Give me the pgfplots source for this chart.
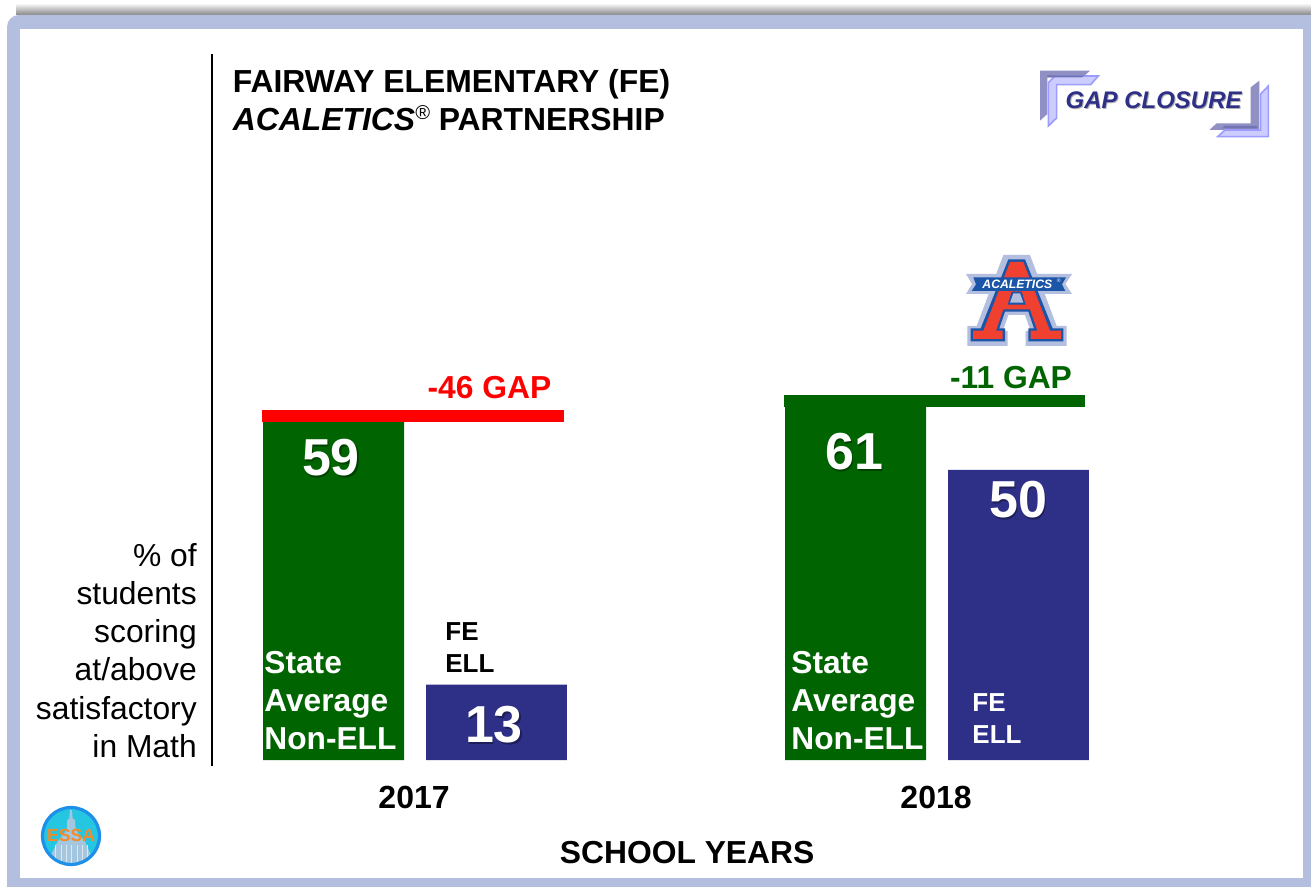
\documentclass[border=0pt]{standalone}
\usepackage{fontspec}
\setmainfont{Liberation Sans}
\usepackage{pgfplots}
\pgfplotsset{compat=1.18}
\definecolor{band}{HTML}{B4BFE0}
\definecolor{dgreen}{HTML}{006400}
\definecolor{navy}{HTML}{2E3087}
\definecolor{brk}{HTML}{9090C4}
\definecolor{brkl}{HTML}{CCCCFF}
\definecolor{brkb}{HTML}{9C9CFF}
\definecolor{lblue}{HTML}{1A55A8}
\definecolor{lred}{HTML}{F04030}
\definecolor{ecyan}{HTML}{25C6E2}
\definecolor{eblue}{HTML}{1E90E8}
\definecolor{edome}{HTML}{A4C6DE}
\definecolor{eor}{HTML}{F28C28}
\newcommand{\fs}[1]{\fontsize{#1}{#1}\selectfont}
\tikzset{px/.style={x=.5pt,y=-.5pt}}
\begin{document}
\begin{tikzpicture}
\path[use as bounding box] (0,0) rectangle (655.5pt,-443.5pt);
% frame
\begin{scope}[px]
\shade[top color=white,bottom color=black!48] (16,3) rectangle (1311,15);
\fill[band,rounded corners=6pt] (7,40) -- (7,15) -- (1330,15) -- (1330,900) -- (7,900) -- cycle;
\fill[band] (7,30) rectangle (1311,887);
\fill[white] (20,29) rectangle (1303,878);
\end{scope}
% chart
\begin{axis}[
  at={(106pt,-383pt)},anchor=south west,
  scale only axis,width=545.5pt,height=356pt,
  xmin=-0.389,xmax=1.701,ymin=-1.03,ymax=121.7,
  axis y line*=left,axis x line*=bottom,
  x axis line style={draw=none},
  y axis line style={line width=1.1pt,-},
  ytick=\empty,xtick={0,1},xticklabels={2017,2018},
  tick style={draw=none},
  x tick label style={font=\fs{16}\bfseries,yshift=-6.5pt,xshift=-0.5pt},
  xlabel={SCHOOL YEARS},
  xlabel style={font=\fs{15.9}\bfseries,at={(axis description cs:0.4355,-0.121)},anchor=center},
  ylabel={\% of\\students\\scoring\\at/above\\satisfactory\\in Math},
  ylabel style={rotate=-90,font=\fontsize{15.9}{19.1}\selectfont,align=right,anchor=south east,at={(axis description cs:-0.0075,0.002)}},
]
\addplot[ybar,bar width=0.27,bar shift=-0.156,fill=dgreen,draw=none] coordinates {(0,59) (1,61)};
\addplot[ybar,bar width=0.27,bar shift=0.156,fill=navy,draw=none] coordinates {(0,13) (1,50)};
\addplot[red,line width=6pt,no markers] coordinates {(-0.293,59.3) (0.285,59.3)};
\addplot[dgreen,line width=6pt,no markers] coordinates {(0.707,61.9) (1.284,61.9)};
\end{axis}
% texts
\begin{scope}[px]
\node[anchor=base west,inner sep=0pt,font=\fs{15.93}\bfseries] at (232.5,93) {FAIRWAY ELEMENTARY (FE)};
\node[anchor=base west,inner sep=0pt,font=\fs{15.93}\bfseries] at (232.5,131) {\textit{ACALETICS\raisebox{5.5pt}{\fontsize{10}{10}\selectfont\mdseries ®}} PARTNERSHIP};
\node[font=\fs{15.9}\bfseries,red] at (489.5,388) {-46 GAP};
\node[font=\fs{15.9}\bfseries,dgreen] at (1011,378) {-11 GAP};
\foreach \x/\y/\t/\c in {331/458/59/dgreen,494/725/13/navy,854/452/61/dgreen,1018/500/50/navy}{
  \node[font=\fs{26}\bfseries,text=black!35!\c] at (\x+1.5,\y+1.5) {\t};
  \node[font=\fs{26}\bfseries,white] at (\x,\y) {\t};
}
\foreach \x in {264,791}{
  \node[anchor=base west,inner sep=0pt,font=\fs{15.85}\bfseries,white] at (\x,673) {State};
  \node[anchor=base west,inner sep=0pt,font=\fs{15.85}\bfseries,white] at (\x,711) {Average};
  \node[anchor=base west,inner sep=0pt,font=\fs{15.85}\bfseries,white] at (\x,749) {Non-ELL};
}
\node[anchor=west,inner sep=0pt,font=\fs{13}\bfseries] at (445,632) {FE};
\node[anchor=west,inner sep=0pt,font=\fs{13}\bfseries] at (445,664) {ELL};
\node[anchor=west,inner sep=0pt,font=\fs{13}\bfseries,white] at (972,703) {FE};
\node[anchor=west,inner sep=0pt,font=\fs{13}\bfseries,white] at (972,735) {ELL};
% GAP CLOSURE badge
\begin{scope}[shift={(940,50)},scale=1/3]
\fill[brk] (300,62)--(450,62)--(428,82)--(322,82)--(322,192)--(300,212)--cycle;
\fill[brkl,draw=brkb,line width=.8pt] (345,78)--(475,78)--(452,104)--(350,104)--(350,204)--(325,228)--(325,98)--cycle;
\fill[brk!70!navy] (322,76)--(435,76)--(425,82)--(322,82)--cycle;
\fill[brk] (958,92)--(958,240)--(808,240)--(830,220)--(932,220)--(932,112)--cycle;
\fill[brkl,draw=brkb,line width=.8pt] (985,108)--(985,260)--(833,260)--(855,240)--(962,240)--(962,132)--cycle;
\fill[brk!70!navy] (855,228)--(952,228)--(952,235)--(845,235)--cycle;
\node[font=\fs{12}\bfseries\itshape,text=black!30] at (644,155) {GAP CLOSURE};
\node[font=\fs{12}\bfseries\itshape,text=navy] at (641,152) {GAP CLOSURE};
\end{scope}
% Acaletics logo
\begin{scope}[shift={(960,250)},scale=1/3]
\fill[band] (130,15)--(210,15)--(290,228)--(320,228)--(320,288)--(197,288)--(197,243)--(212,243)--(195,195)--(145,195)--(128,243)--(143,243)--(143,288)--(22,288)--(22,228)--(50,228)--cycle;
\fill[band] (18,72)--(336,72)--(316,102)--(336,132)--(18,132)--(36,102)--cycle;
\fill[lblue] (145,28)--(195,28)--(278,235)--(310,235)--(310,274)--(205,274)--(205,235)--(222,235)--(205,185)--(135,185)--(118,235)--(135,235)--(135,274)--(32,274)--(32,235)--(62,235)--cycle;
\fill[lred] (150,36)--(190,36)--(270,242)--(303,242)--(303,267)--(212,267)--(212,242)--(232,242)--(210,178)--(130,178)--(108,242)--(128,242)--(128,267)--(39,267)--(39,242)--(70,242)--cycle;
\fill[lblue] (143,164)--(197,164)--(185,125)--(155,125)--cycle;
\fill[band] (150,158)--(190,158)--(180,130)--(160,130)--cycle;
\fill[lblue] (40,82)--(318,82)--(306,103)--(316,123)--(35,123)--(48,103)--cycle;
\node[font=\fs{6.1}\bfseries\itshape,white,inner sep=0pt] at (172,104) {ACALETICS};
\node[font=\fs{2.6},white,inner sep=0pt] at (296,92) {®};
\end{scope}
% ESSA logo
\fill[ecyan] (71,836) circle (29);
\begin{scope}
\clip (71,836) circle (28);
\begin{scope}[shift={(35,800)},scale=1/3]
\fill[edome] (105,30)--(111,30)--(113,55)--(120,60)--(122,90)--(150,125)--(168,165)--(168,200)--(48,200)--(48,165)--(68,125)--(95,90)--(97,60)--(103,55)--cycle;
\foreach \x in {62,78,94,110,126,142,158}{\draw[white!60!edome,line width=.4pt] (\x,135) -- (\x,190);}
\end{scope}
\end{scope}
\draw[eblue,line width=1.6pt] (71,836) circle (28.5);
\node[font=\fs{8.8}\bfseries,text=eor,inner sep=0pt] at (71,835) {ESSA};
\end{scope}
\end{tikzpicture}
\end{document}
